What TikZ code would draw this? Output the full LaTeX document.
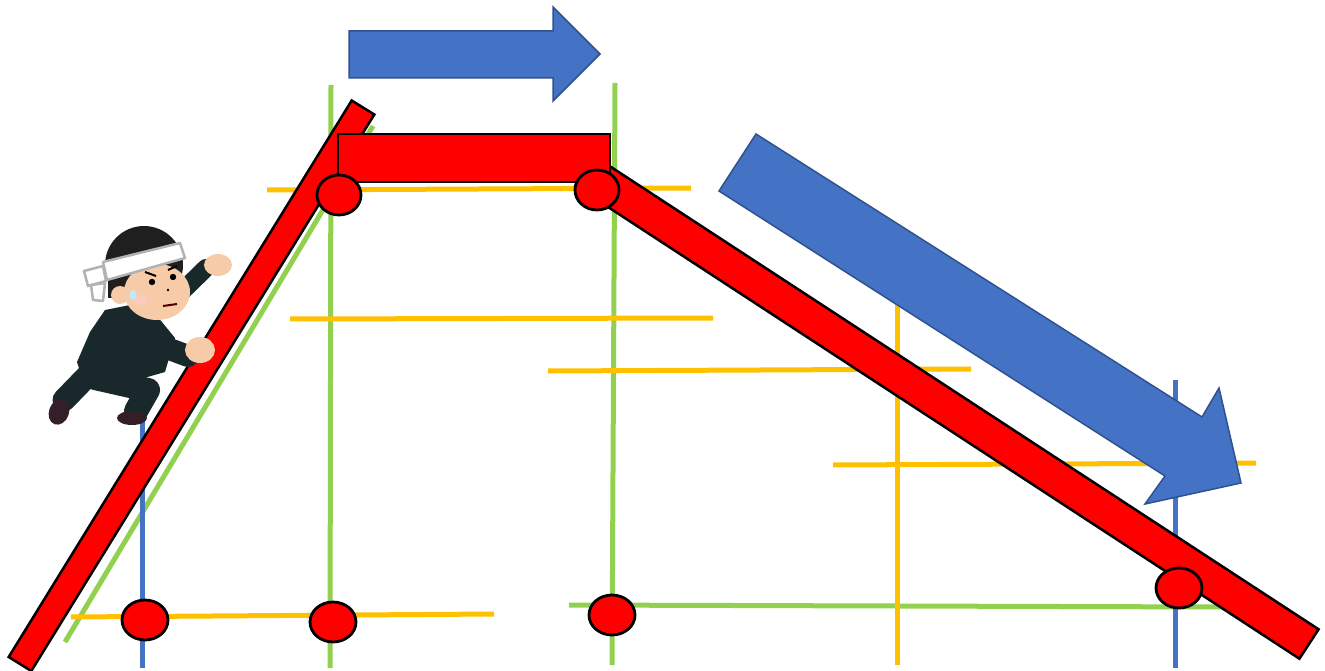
\documentclass[tikz,border=0pt]{standalone}
\usepackage{tikz}
\usepackage{xcolor}
\definecolor{barRed}{RGB}{255,0,0}
\definecolor{guideGreen}{RGB}{146,208,80}
\definecolor{guideYellow}{RGB}{255,192,0}
\definecolor{guideBlue}{RGB}{68,114,196}
\definecolor{arrowEdge}{RGB}{47,82,143}
\definecolor{suitColor}{RGB}{24,40,43}
\definecolor{skinColor}{RGB}{247,203,168}
\definecolor{shoeColor}{RGB}{52,30,40}

\begin{document}
\begin{tikzpicture}[x=1pt,y=-1pt,
  guide/.style={line width=5},
  member/.style={fill=barRed, draw=black, line width=2.5, line join=miter},
  joint/.style={fill=barRed, draw=black, line width=2.8},
  push/.style={fill=guideBlue, draw=arrowEdge, line width=1.5, line join=miter},
  limb/.style={draw=suitColor, line cap=round, line join=round},
  band/.style={fill=white, draw=gray!60, line width=2.5, line join=round},
]
\newcommand\Pin[1]{ellipse (#1 and 20)}
\useasboundingbox (0,0) rectangle (1325,671);

% scaffold lines
\draw [guide, guideGreen] (331,85) -- (330,668);
\draw [guide, guideGreen] (615,83) -- (612,665);
\draw [guide, guideGreen] (373,126) -- (65,642);
\draw [guide, guideGreen] (569,605) -- (1225,607);
\draw [guide, guideBlue] (142,400) -- (142,668);
\draw [guide, guideBlue] (1175,380) -- (1175,668);
\draw [guide, guideYellow] (897,300) -- (897,665);
\draw [guide, guideYellow] (267,190) -- (691,188);
\draw [guide, guideYellow] (290,319) -- (713,318);
\draw [guide, guideYellow] (548,371) -- (971,369);
\draw [guide, guideYellow] (833,465) -- (1256,463);
\draw [guide, guideYellow] (71,617) -- (494,614);

% red members
\draw [member] (351.7,100.5) -- (374.3,114.5) -- (31.3,671) -- (8.7,657) -- cycle;
\draw [member] (594.6,156.3) -- (1318.6,629.3) -- (1299.4,658.7) -- (575.4,185.7) -- cycle;
\draw [member] (338,134) rectangle (610,182);

% blue arrows
\draw [push] (349,31) -- (553,31) -- (553,7) -- (600,54) -- (553,101) -- (553,78) -- (349,78) -- cycle;
\draw [push] (756,134) -- (1202,417) -- (1219,388) -- (1241,483) -- (1145,504) -- (1165,476) -- (719,191) -- cycle;

% joints
\draw [joint] (339,195) \Pin{22};
\draw [joint] (597,190) \Pin{22};
\draw [joint] (145,620) \Pin{23};
\draw [joint] (333,622) \Pin{23};
\draw [joint] (612,615) \Pin{23};
\draw [joint] (1179,588) \Pin{23};

% climber
\draw [limb, line width=23] (95,368) -- (64,400);
\fill [shoeColor, rotate around={-20:(59,412)}] (59,412) ellipse (10 and 13);
\draw [limb, line width=24] (95,378) -- (148,390) -- (136,411);
\fill [shoeColor] (132,418) ellipse (15 and 7);
\fill [suitColor] (105,310) -- (130,305) -- (157,316) -- (175,338) -- (165,372) -- (130,382) -- (84,384) -- (77,362) -- (90,332) -- cycle;
\draw [limb, line width=18] (165,308) -- (206,268);
\fill [skinColor] (218,265) ellipse (14 and 11);
\draw [limb, line width=22] (140,338) -- (188,356);
\fill [skinColor] (200,350) ellipse (15 and 13);
\fill [black!88] (144,265) ellipse (39 and 39);
\fill [black!88] (108,270) rectangle (125,298);
\fill [skinColor] (157,292) ellipse (33 and 28);
\fill [skinColor] (120,295) circle (9);
\fill [black] (152,282) circle (3.2);
\fill [black] (173,277) circle (3.2);
\draw [black, line width=2] (145,272) -- (156,276) (168,270) -- (177,266);
\fill [black] (168,290) circle (1.3);
\draw [black!70!red, line width=2] (163,306) -- (177,304);
\fill [red!20, opacity=0.6] (140,300) ellipse (7 and 5);
\fill [cyan!25] (133,295) ellipse (3.5 and 5);
\draw [band] (103,262) -- (180,243) -- (185,258) -- (107,280) -- cycle;
\draw [band] (84,271) -- (103,266) -- (106,281) -- (88,286) -- cycle;
\draw [band] (91,285) -- (105,283) -- (103,301) -- (93,300) -- cycle;
\end{tikzpicture}
\end{document}
